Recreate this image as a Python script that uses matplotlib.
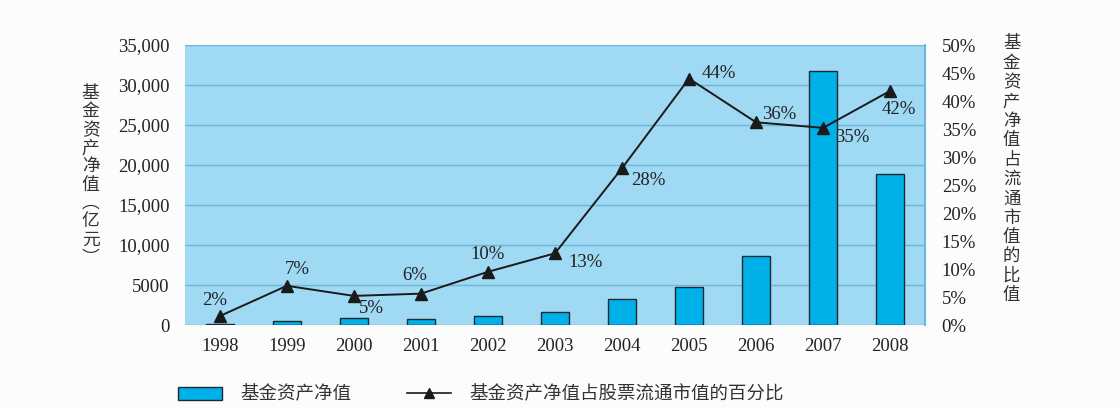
import matplotlib
matplotlib.use("Agg")
import matplotlib.pyplot as plt
from matplotlib.patches import Patch
from matplotlib.lines import Line2D
from matplotlib.ticker import FuncFormatter, MultipleLocator

years = ["1998", "1999", "2000", "2001", "2002", "2003", "2004", "2005", "2006", "2007", "2008"]
net_assets = [100, 500, 850, 800, 1100, 1600, 3250, 4700, 8600, 31750, 18900]
share_pct = [1.6, 7.0, 5.2, 5.6, 9.5, 12.8, 28.0, 44.0, 36.2, 35.2, 41.8]
pct_labels = ["2%", "7%", "5%", "6%", "10%", "13%", "28%", "44%", "36%", "35%", "42%"]
# label offsets in pixels from each marker
label_offsets = [(-5, 16), (10, 16), (17, -13), (-6, 18), (0, 17), (31, -9),
                 (26, -12), (30, 5), (23, 8), (29, -10), (9, -19)]

serif = "Liberation Serif"
cjk = ["Noto Sans CJK SC", "DejaVu Sans"]
plt.rcParams["font.family"] = [serif, "Noto Sans CJK SC", "DejaVu Sans"]
num_size = 13.5

fig = plt.figure(figsize=(11.19, 4.08), dpi=100)
fig.patch.set_facecolor("#fcfcfc")
ax = fig.add_axes([0.1653, 0.2034, 0.6613, 0.6863])
ax.set_facecolor("#9fd9f4")

x = list(range(len(years)))
ax.bar(x, net_assets, width=0.42, color="#00b1e9", edgecolor="#1a2a33", linewidth=1.0, zorder=3)
ax.set_xlim(-0.52, len(years) - 0.48)
ax.set_ylim(0, 35000)
ax.yaxis.set_major_locator(MultipleLocator(5000))
ax.yaxis.set_major_formatter(FuncFormatter(lambda v, p: "0" if v == 0 else ("5000" if v == 5000 else f"{int(v):,}")))
ax.grid(axis="y", color="#6cb7d6", linewidth=1.0, zorder=1)
ax.set_xticks(x)
ax.set_xticklabels(years)
ax.tick_params(axis="both", length=0, labelsize=num_size, colors="#222222")
ax.tick_params(axis="x", pad=9)
ax.tick_params(axis="y", pad=11)
for s in ["top", "left", "bottom"]:
    ax.spines[s].set_visible(False)
ax.spines["right"].set_color("#6cb7d6")
ax.spines["right"].set_linewidth(1.5)

ax2 = ax.twinx()
ax2.plot(x, share_pct, color="#1a1a1a", linewidth=1.4, marker="^", markersize=8, zorder=5)
ax2.set_ylim(0, 50)
ax2.yaxis.set_major_locator(MultipleLocator(5))
ax2.yaxis.set_major_formatter(FuncFormatter(lambda v, p: f"{int(v)}%"))
ax2.tick_params(axis="y", length=0, labelsize=num_size, colors="#222222", pad=12)
for s in ["top", "left", "bottom", "right"]:
    ax2.spines[s].set_visible(False)

for xi, yi, lab, off in zip(x, share_pct, pct_labels, label_offsets):
    ax2.annotate(lab, (xi, yi), textcoords="offset pixels", xytext=off,
                 ha="center", va="center", fontsize=num_size, color="#222222")

fig.text(0.081, 0.57, "\n".join("基金资产净值") + "\n︵\n亿\n元\n︶", family=cjk,
         fontsize=12.8, ha="center", va="center", linespacing=1.02, color="#333333")
fig.text(0.904, 0.585, "\n".join("基金资产净值占流通市值的比值"), family=cjk,
         fontsize=12.5, ha="center", va="center", linespacing=1.1, color="#333333")

handles = [Patch(facecolor="#00b1e9", edgecolor="#1a2a33", linewidth=1.0),
           Line2D([0], [0], color="#1a1a1a", linewidth=1.2, marker="^", markersize=7)]
leg = fig.legend(handles, ["基金资产净值", "基金资产净值占股票流通市值的百分比"],
                 loc="lower left", bbox_to_anchor=(0.144, -0.03), ncol=2, frameon=False,
                 prop={"family": cjk, "size": 13.3}, handlelength=2.4, handleheight=0.7,
                 columnspacing=3.0, handletextpad=1.0)
for t in leg.get_texts():
    t.set_color("#333333")

fig.savefig("out.png", dpi=100, facecolor=fig.get_facecolor())
